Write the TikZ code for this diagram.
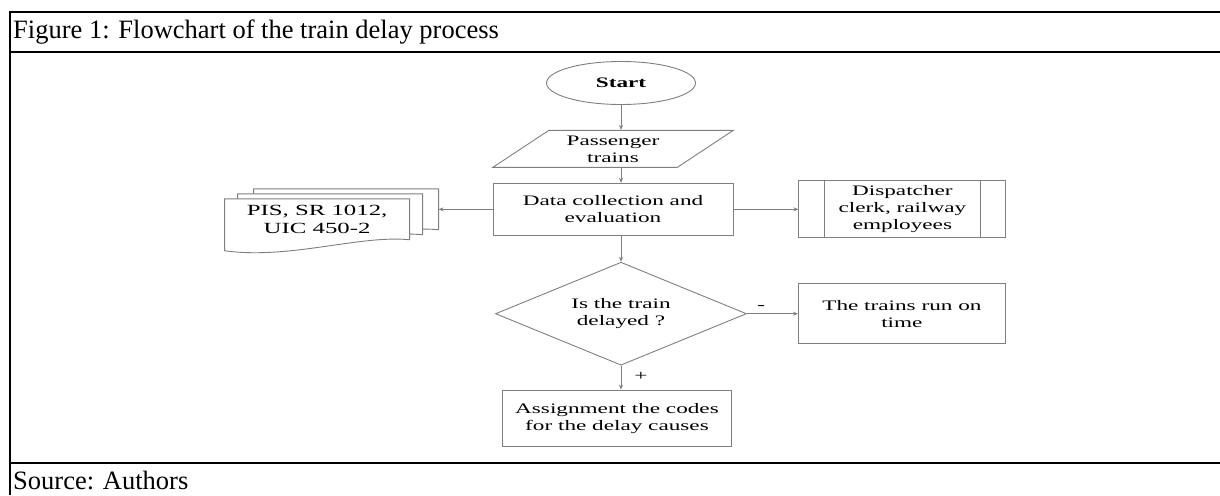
\documentclass[tikz,border=0pt]{standalone}
\usepackage{fontspec}
\setmainfont{Liberation Serif}
\newfontfamily\chartfont[FakeStretch=1.6]{Liberation Serif}
\usepackage{tikz}
\usetikzlibrary{arrows.meta,positioning,shapes.geometric,backgrounds}
\definecolor{flowgray}{RGB}{127,127,127}

\begin{document}
\begin{tikzpicture}[x=1pt,y=1pt,
 box/.style={draw=flowgray,line width=0.9pt,font=\chartfont\fontsize{14.5}{17}\selectfont,align=center,inner sep=2pt},
 startbox/.style={box,ellipse,font=\chartfont\fontsize{14.5}{17}\selectfont\bfseries},
 arr/.style={-{Stealth[length=5pt,width=4pt]},draw=flowgray,line width=0.9pt},
 note/.style={font=\chartfont\fontsize{14.5}{17}\selectfont,inner sep=1pt},
 frame/.style={line width=2.4pt,black},
 caption/.style={font=\fontsize{26.5}{30}\selectfont,anchor=west,inner sep=0pt}]
\useasboundingbox (0,0) rectangle (1220,-495);
\draw[frame] (1220,-12) -- (10,-12) -- (10,-495);
\draw[frame] (10,-52) -- (1220,-52);
\draw[frame] (10,-463) -- (1220,-463);
\node[caption] (title) at (13,-32) {Figure 1: Flowchart of the train delay process};
\node[caption] (source) at (13,-480) {Source: Authors};
\node[startbox,minimum width=149pt,minimum height=43pt] (start) at (621,-83) {Start};
\node[box,trapezium,trapezium left angle=36,trapezium right angle=144,trapezium stretches=true,
 minimum width=241pt,minimum height=37pt,below=25pt of start,xshift=-8pt] (pass) {Passenger\\trains};
\node[box,minimum width=240pt,minimum height=52pt,below=15pt of pass] (data) {Data collection and\\evaluation};
\node[box,diamond,shape aspect=2.4,inner sep=0pt,minimum width=251pt,minimum height=103pt,below=26pt of data,xshift=8pt] (dec) {Is the train\\delayed ?};
\node[box,minimum width=229pt,minimum height=56pt,below=24pt of dec,xshift=-4pt] (assign) {Assignment the codes\\for the delay causes};
\node[box,minimum width=207pt,minimum height=60pt,right=51pt of dec] (ontime) {The trains run on\\time};
\node[box,minimum width=207pt,minimum height=57pt,right=65pt of data] (disp) {Dispatcher\\clerk, railway\\employees};
\draw[draw=flowgray,line width=0.9pt] ([xshift=26pt]disp.north west) -- ([xshift=26pt]disp.south west);
\draw[draw=flowgray,line width=0.9pt] ([xshift=-26pt]disp.north east) -- ([xshift=-26pt]disp.south east);
\node[box,draw=none,font=\chartfont\fontsize{15.5}{18}\selectfont,minimum width=184pt,minimum height=40pt,
 left=83pt of data,yshift=-10pt] (docs) {PIS, SR 1012,\\UIC 450-2};
\begin{scope}[on background layer]
\foreach \dx/\dy in {29/10,13/5,0/0}
 \draw[draw=flowgray,line width=0.9pt,fill=white] ([shift={(\dx,\dy)}]docs.south east) -- ([shift={(\dx,\dy)}]docs.north east)
  -- ([shift={(\dx,\dy)}]docs.north west) -- ([shift={({\dx},{\dy-11})}]docs.south west)
  .. controls +(65,-9) and +(-50,5) .. ([shift={(\dx,\dy)}]docs.south east);
\end{scope}
\coordinate (docsin) at ([xshift=29pt]docs.east);
\draw[arr] (start) -- (start |- pass.north);
\draw[arr] (start |- pass.south) -- (start |- data.north);
\draw[arr] (data) -- (disp);
\draw[arr] (data.west) -- (data.west -| docsin);
\draw[arr] (start |- data.south) -- (dec);
\draw[arr] (dec) -- node[note,pos=0.28,above=3pt]{-} (ontime);
\draw[arr] (dec) -- node[note,pos=0.45,right=12pt]{+} (dec |- assign.north);
\end{tikzpicture}
\end{document}
